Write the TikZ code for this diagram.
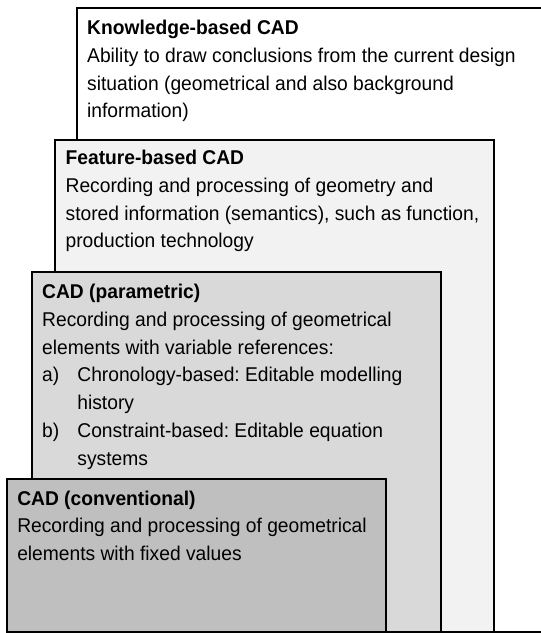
\documentclass[tikz,border=0pt]{standalone}
\usepackage{fontspec}
\setmainfont[FakeStretch=0.965]{Liberation Sans}
\usepackage{tikz}
\frenchspacing
\definecolor{featgray}{HTML}{F2F2F2}
\definecolor{paragray}{HTML}{D9D9D9}
\definecolor{convgray}{HTML}{BFBFBF}
\tikzset{
  every picture/.style={line join=miter},
  layer/.style={draw=black, line width=1.5pt},
  cadtext/.style={anchor=base west, inner sep=0pt, align=left, font=\fontsize{15}{21}\selectfont},
}
\newcommand{\itemlbl}[1]{\makebox[26.5pt][l]{#1}}

\begin{document}
\begin{tikzpicture}
\useasboundingbox(0,0) rectangle (14.31,16.75);
\clip(0,0) rectangle (14.31,16.75);
\draw[layer, fill=white](2.05,0.03) rectangle (14.5,16.54);
\node[cadtext] (kbcad) at (2.30,13.63) {\textbf{Knowledge-based CAD}\\
  Ability to draw conclusions from the current design\\
  situation (geometrical and also background\\
  information)};
\draw[layer, fill=featgray](1.455,0.03) rectangle (13.07,13.04);
\node[cadtext] (fbcad) at (1.73,10.19) {\textbf{Feature-based CAD}\\
  Recording and processing of geometry and\\
  stored information (semantics), such as function,\\
  production technology};
\draw[layer, fill=paragray](0.847,0.03) rectangle (11.67,9.55);
\node[cadtext] (parcad) at (1.11,4.43) {\textbf{CAD (parametric)}\\
  Recording and processing of geometrical\\
  elements with variable references:\\
  \itemlbl{a)}Chronology-based: Editable modelling\\
  \hspace*{26.5pt}history\\
  \itemlbl{b)}Constraint-based: Editable equation\\
  \hspace*{26.5pt}systems};
\draw[layer, fill=convgray](0.198,0.03) rectangle (10.21,4.075);
\node[cadtext] (convcad) at (0.45,1.91) {\textbf{CAD (conventional)}\\
  Recording and processing of geometrical\\
  elements with fixed values};
\end{tikzpicture}
\end{document}
